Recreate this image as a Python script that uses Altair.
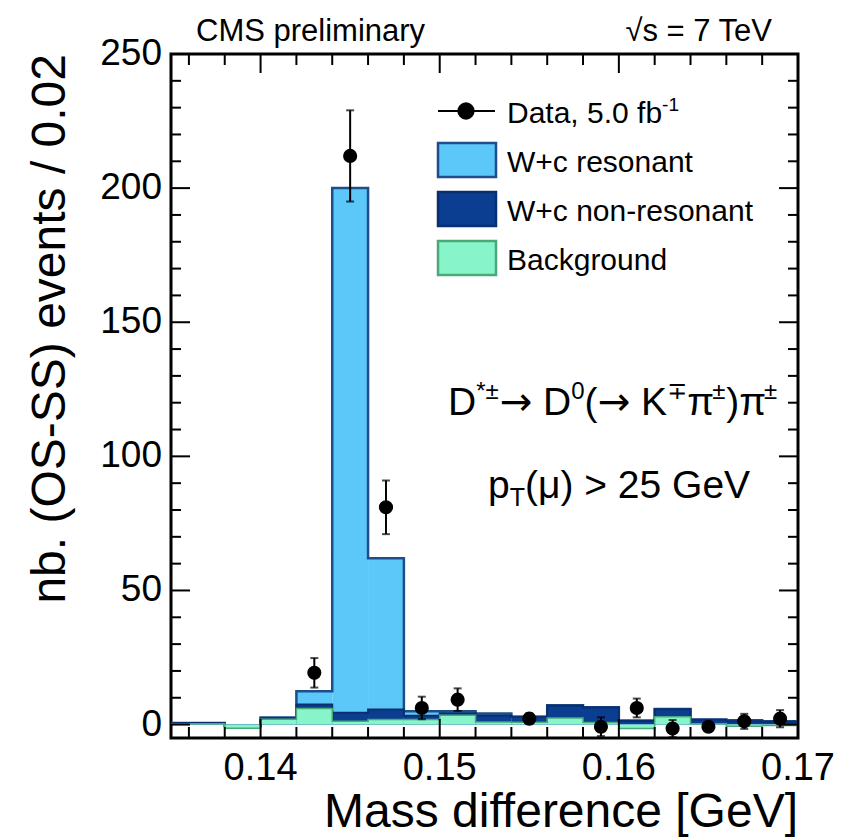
import altair as alt
import pandas as pd

FONT = "Liberation Sans"

# ---------------- data ----------------
bin_lo = [0.134, 0.136, 0.138, 0.140, 0.142, 0.144, 0.146, 0.148, 0.150,
          0.152, 0.154, 0.156, 0.158, 0.160, 0.162, 0.164, 0.166, 0.168]
bin_width = 0.002
background = [0.2, 0.3, -1.4, 2.0, 6.0, 1.2, 1.9, 1.9, 3.5,
              1.0, 0.9, 2.5, 0.8, -1.5, 2.9, 0.3, -0.6, -0.3]
wc_nonres = [0.4, 0.3, 0.9, 0.4, 1.5, 3.2, 3.7, 1.4, 0.7,
             2.4, 2.0, 4.5, 5.6, 2.8, 2.8, 1.5, 1.8, 1.4]
wc_res = [0.0, 0.0, 0.0, 0.2, 4.9, 195.6, 56.4, 1.7, 0.8,
          0.7, 0.0, 0.2, 0.1, 0.2, 0.1, 0.1, 0.4, 0.1]

data_x = [0.143, 0.145, 0.147, 0.149, 0.151, 0.155, 0.159, 0.161, 0.163, 0.165, 0.167, 0.169]
data_y = [19.3, 212.0, 81.0, 6.2, 9.3, 2.2, -0.8, 6.2, -1.5, -0.8, 1.2, 2.2]
data_err = [5.5, 17.0, 10.0, 4.2, 4.2, 2.0, 3.5, 3.5, 3.2, 1.2, 2.8, 3.2]

x_major = [0.14, 0.15, 0.16, 0.17]
x_major_labels = ["0.14", "0.15", "0.16", "0.17"]
x_minor = [0.136, 0.138, 0.142, 0.144, 0.146, 0.148, 0.152, 0.154, 0.156, 0.158,
           0.162, 0.164, 0.166, 0.168]
y_major = [0, 50, 100, 150, 200, 250]
y_major_labels = ["0", "50", "100", "150", "200", "250"]
y_minor = [10, 20, 30, 40, 60, 70, 80, 90, 110, 120, 130, 140, 160, 170, 180, 190,
           210, 220, 230, 240]

# ---------------- layout constants ----------------
W, H = 627, 684
PAD = {"left": 171, "top": 54, "right": 50, "bottom": 99}

C_RES, C_RES_LINE = "#5cc8fa", "#1d4e89"
C_NON, C_NON_LINE = "#0b3d91", "#0a2f70"
C_BKG, C_BKG_LINE = "#87f5c9", "#4aa978"

xs = alt.Scale(domain=[0.135, 0.17], nice=False, zero=False)
ys = alt.Scale(domain=[-5, 250], nice=False, zero=False)

# ---------------- tables ----------------
n = len(bin_lo)
top_bkg = [background[i] for i in range(n)]
top_non = [background[i] + wc_nonres[i] for i in range(n)]
top_tot = [top_non[i] + wc_res[i] for i in range(n)]
hist = pd.DataFrame({
    "lo": bin_lo,
    "hi": [b + bin_width for b in bin_lo],
    "base": [0.0] * n,
    "tot": top_tot,
    "non": top_non,
    "bkg": top_bkg,
})


def step_df(vals):
    edges = list(bin_lo) + [bin_lo[-1] + bin_width]
    v = list(vals) + [vals[-1]]
    return pd.DataFrame({"edge": edges, "val": v})


pts = pd.DataFrame({"x": data_x, "y": data_y,
                    "lo": [data_y[i] - data_err[i] for i in range(len(data_y))],
                    "hi": [data_y[i] + data_err[i] for i in range(len(data_y))]})

one = pd.DataFrame({"a": [0]})

layers = []


def fill_layer(col, color):
    return alt.Chart(hist).mark_rect(color=color, clip=True).encode(
        x=alt.X("lo:Q", scale=xs, axis=None),
        x2="hi:Q",
        y=alt.Y(f"{col}:Q", scale=ys, axis=None),
        y2="base:Q",
    )


def outline_layer(vals, color, width):
    return alt.Chart(step_df(vals)).mark_line(
        interpolate="step-after", color=color, strokeWidth=width, clip=True
    ).encode(x=alt.X("edge:Q", scale=xs, axis=None), y=alt.Y("val:Q", scale=ys, axis=None))


layers.append(fill_layer("tot", C_RES))
layers.append(outline_layer(top_tot, C_RES_LINE, 2.5))
layers.append(fill_layer("non", C_NON))
layers.append(outline_layer(top_non, C_NON_LINE, 2))
layers.append(fill_layer("bkg", C_BKG))
layers.append(outline_layer(top_bkg, C_BKG_LINE, 1.5))

# ---------------- ticks (inside, ROOT style) ----------------
def xticks(vals, length):
    d = pd.DataFrame({"v": vals})
    bot = alt.Chart(d).mark_rule(color="black", strokeWidth=2).encode(
        x=alt.X("v:Q", scale=xs, axis=None), y=alt.value(H), y2=alt.value(H - length))
    top = alt.Chart(d).mark_rule(color="black", strokeWidth=2).encode(
        x=alt.X("v:Q", scale=xs, axis=None), y=alt.value(0), y2=alt.value(length))
    return [bot, top]


def yticks(vals, length):
    d = pd.DataFrame({"v": vals})
    left = alt.Chart(d).mark_rule(color="black", strokeWidth=2).encode(
        y=alt.Y("v:Q", scale=ys, axis=None), x=alt.value(0), x2=alt.value(length))
    right = alt.Chart(d).mark_rule(color="black", strokeWidth=2).encode(
        y=alt.Y("v:Q", scale=ys, axis=None), x=alt.value(W), x2=alt.value(W - length))
    return [left, right]


layers += xticks(x_major, 19) + xticks(x_minor, 11)
layers += yticks(y_major, 19) + yticks(y_minor, 10)

# tick labels (positioned through the scales)
xl = pd.DataFrame({"v": x_major, "t": x_major_labels})
layers.append(alt.Chart(xl).mark_text(fontSize=38, font=FONT, color="black", align="center",
                                      baseline="alphabetic").encode(
    x=alt.X("v:Q", scale=xs, axis=None), y=alt.value(726), text="t:N"))
yl = pd.DataFrame({"v": y_major, "t": y_major_labels})
layers.append(alt.Chart(yl).mark_text(fontSize=37, font=FONT, color="black", align="right",
                                      baseline="middle").encode(
    y=alt.Y("v:Q", scale=ys, axis=None), x=alt.value(-9), text="t:N"))

# ---------------- data points ----------------
layers.append(alt.Chart(pts).mark_rule(color="black", strokeWidth=2).encode(
    x=alt.X("x:Q", scale=xs, axis=None), y=alt.Y("lo:Q", scale=ys, axis=None), y2="hi:Q"))
for col in ["lo", "hi"]:
    layers.append(alt.Chart(pts).mark_tick(color="black", orient="horizontal", size=8,
                                           thickness=2).encode(
        x=alt.X("x:Q", scale=xs, axis=None), y=alt.Y(f"{col}:Q", scale=ys, axis=None)))
layers.append(alt.Chart(pts).mark_circle(color="black", opacity=1, size=200).encode(
    x=alt.X("x:Q", scale=xs, axis=None), y=alt.Y("y:Q", scale=ys, axis=None)))

# ---------------- text helpers ----------------
CW = {'D': .722, '*': .389, '±': .584, '→': .838, ' ': .278, '0': .556, '(': .333, ')': .333,
      'K': .667, '∓': .838, 'π': .64, 'p': .556, 'T': .611, 'μ': .576, '>': .584, '2': .556,
      '5': .556, 'G': .778, 'e': .556, 'V': .667, 'a': .556, 't': .278, ',': .278, '.': .278,
      'f': .278, 'b': .556, '-': .333, '1': .556}


def text_at(txt, x, y, size, align="left", angle=0, baseline="alphabetic", font=FONT):
    kw = dict(text=txt, fontSize=size, font=font, align=align, baseline=baseline, color="black")
    if angle:
        kw["angle"] = angle
    return alt.Chart(one).mark_text(**kw).encode(x=alt.value(x), y=alt.value(y))


def runs(parts, x0, y0):
    """Lay out text pieces left to right; a piece of only spaces just advances."""
    out = []
    x = x0
    for part in parts:
        txt, size, dy = part[:3]
        font = part[3] if len(part) > 3 else FONT
        if txt.strip():
            out.append(text_at(txt, x, y0 + dy, size, font=font))
        x += sum(CW.get(c, 0.56) for c in txt) * size
    return out


# top labels
layers.append(text_at("CMS preliminary", 25, -13, 31))
layers.append(text_at("√s = 7 TeV", 601, -13, 31, align="right"))

# axis titles
layers.append(text_at("Mass difference [GeV]", W, 773, 48, align="right"))
layers.append(text_at("nb. (OS-SS) events / 0.02", -106, 0, 48, align="right", angle=270))

# physics annotations
M, S = 39, 24
DJ = "DejaVu Sans"
layers += runs([("D", M, 0), ("*±", S, -16), ("→", M, 0, DJ), (" ", M, 0), ("D", M, 0),
                ("0", S, -16), ("(", M, 0), ("→", M, 0, DJ), (" ", M, 0), ("K", M, 0),
                ("∓", S, -16, DJ), ("π", M, 0), ("±", S, -16), (")", M, 0), ("π", M, 0),
                ("±", S, -16)], 277, 361)
layers += runs([("p", 39, 0), ("T", 25, 8), ("(μ) > 25 GeV", 39, 0)], 317, 444)

# ---------------- legend ----------------
LX0, LX1 = 267, 325
TX = 336
layers.append(alt.Chart(one).mark_rule(color="black", strokeWidth=2).encode(
    x=alt.value(LX0), x2=alt.value(LX1 - 1), y=alt.value(57)))
layers.append(alt.Chart(one).mark_circle(color="black", opacity=1, size=300).encode(
    x=alt.value(295), y=alt.value(57)))
layers += runs([("Data, 5.0 fb", 30, 0), ("-1", 19, -12)], TX, 69)

legend_rows = [("W+c resonant", C_RES, C_RES_LINE, 106),
               ("W+c non-resonant", C_NON, C_NON_LINE, 155),
               ("Background", C_BKG, C_BKG_LINE, 204)]
for label, fill, line, cy in legend_rows:
    layers.append(alt.Chart(one).mark_rect(color=fill, stroke=line, strokeWidth=2.5).encode(
        x=alt.value(LX0), x2=alt.value(LX1), y=alt.value(cy - 17), y2=alt.value(cy + 17)))
    layers.append(text_at(label, TX, cy + 12, 30))

chart = alt.layer(*layers).properties(
    width=W, height=H, padding=PAD, autosize=alt.AutoSizeParams(type="none"),
    background="white"
).configure_view(stroke="black", strokeWidth=3)

chart.save("out.html", embed_options={"renderer": "svg", "actions": False})
